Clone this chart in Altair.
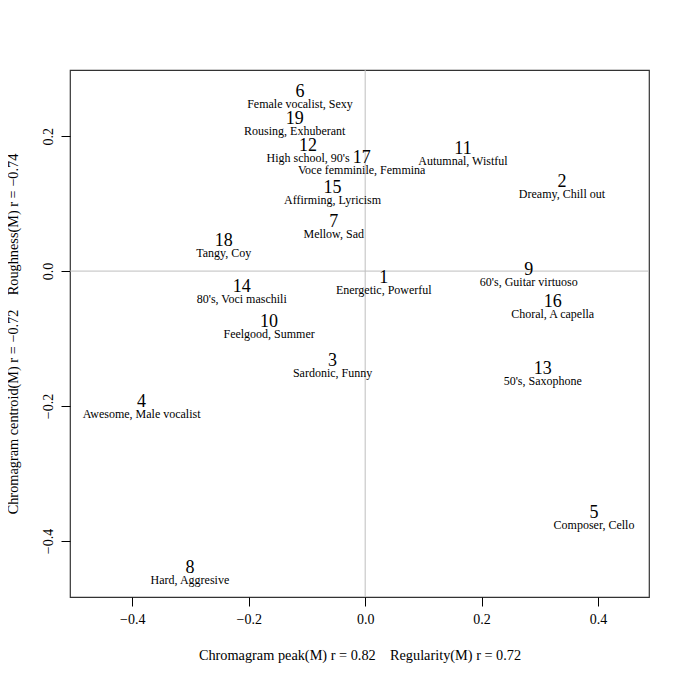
import altair as alt
import pandas as pd

ids = [str(i) for i in range(1, 20)]
tags = [
    "Energetic, Powerful", "Dreamy, Chill out", "Sardonic, Funny",
    "Awesome, Male vocalist", "Composer, Cello", "Female vocalist, Sexy",
    "Mellow, Sad", "Hard, Aggresive", "60's, Guitar virtuoso",
    "Feelgood, Summer", "Autumnal, Wistful", "High school, 90's",
    "50's, Saxophone", "80's, Voci maschili", "Affirming, Lyricism",
    "Choral, A capella", "Voce femminile, Femmina", "Tangy, Coy",
    "Rousing, Exhuberant",
]
xs = [0.032, 0.338, -0.056, -0.384, 0.393, -0.112, -0.054, -0.301, 0.281,
      -0.165, 0.168, -0.098, 0.305, -0.212, -0.056, 0.322, -0.006, -0.243, -0.121]
ys = [-0.010, 0.132, -0.133, -0.194, -0.359, 0.265, 0.073, -0.440, 0.001,
      -0.076, 0.181, 0.185, -0.145, -0.024, 0.123, -0.046, 0.167, 0.044, 0.225]

x_ticks = [-0.4, -0.2, 0.0, 0.2, 0.4]
y_ticks = [-0.4, -0.2, 0.0, 0.2]
x_domain = [-0.507, 0.4875]
y_domain = [-0.483, 0.298]

x_title = "Chromagram peak(M) r = 0.82\u00a0\u00a0\u00a0\u00a0Regularity(M) r = 0.72"
y_title = "Chromagram centroid(M) r = \u22120.72\u00a0\u00a0\u00a0\u00a0Roughness(M) r = \u22120.74"

df = pd.DataFrame({"id": ids, "tag": tags, "x": xs, "y": ys})
zero = pd.DataFrame({"v": [0.0]})

FONT = "Liberation Serif"

xenc = alt.X("x:Q", scale=alt.Scale(domain=x_domain, nice=False, zero=False),
             axis=alt.Axis(values=x_ticks, format=".1f", title=x_title,
                           grid=False, domain=False, tickColor="black",
                           tickSize=9, labelFontSize=14, labelFont=FONT,
                           labelColor="black", labelPadding=6,
                           titleFont=FONT, titleFontSize=14.3, titleColor="black",
                           titleFontWeight="normal", titlePadding=22))
yenc = alt.Y("y:Q", scale=alt.Scale(domain=y_domain, nice=False, zero=False),
             axis=alt.Axis(values=y_ticks, format=".1f", title=y_title,
                           grid=False, domain=False, tickColor="black",
                           tickSize=9, labelFontSize=14, labelFont=FONT,
                           labelColor="black", labelAngle=270,
                           labelAlign="center", labelBaseline="bottom",
                           labelPadding=6,
                           titleFont=FONT, titleFontSize=14.3, titleColor="black",
                           titleFontWeight="normal", titlePadding=21))

base = alt.Chart(df)

vrule = alt.Chart(zero).mark_rule(color="#bebebe", strokeWidth=1).encode(
    x=alt.X("v:Q", scale=alt.Scale(domain=x_domain, nice=False, zero=False)))
hrule = alt.Chart(zero).mark_rule(color="#bebebe", strokeWidth=1).encode(
    y=alt.Y("v:Q", scale=alt.Scale(domain=y_domain, nice=False, zero=False)))

nums = base.mark_text(font=FONT, fontSize=18, color="black",
                      baseline="middle", align="center").encode(
    x=xenc, y=yenc, text="id:N")
labs = base.mark_text(font=FONT, fontSize=12, color="black",
                      baseline="middle", align="center", dy=12).encode(
    x="x:Q", y="y:Q", text="tag:N")

chart = alt.layer(vrule, hrule, nums, labs).properties(
    width=579, height=527,
    background="white",
    autosize=alt.AutoSizeParams(type="none"),
    padding={"left": 62, "top": 62, "right": 28, "bottom": 80},
).configure_view(stroke="#333333", strokeWidth=1.2)

chart.save("out.html", embed_options={"renderer": "svg", "actions": False})
